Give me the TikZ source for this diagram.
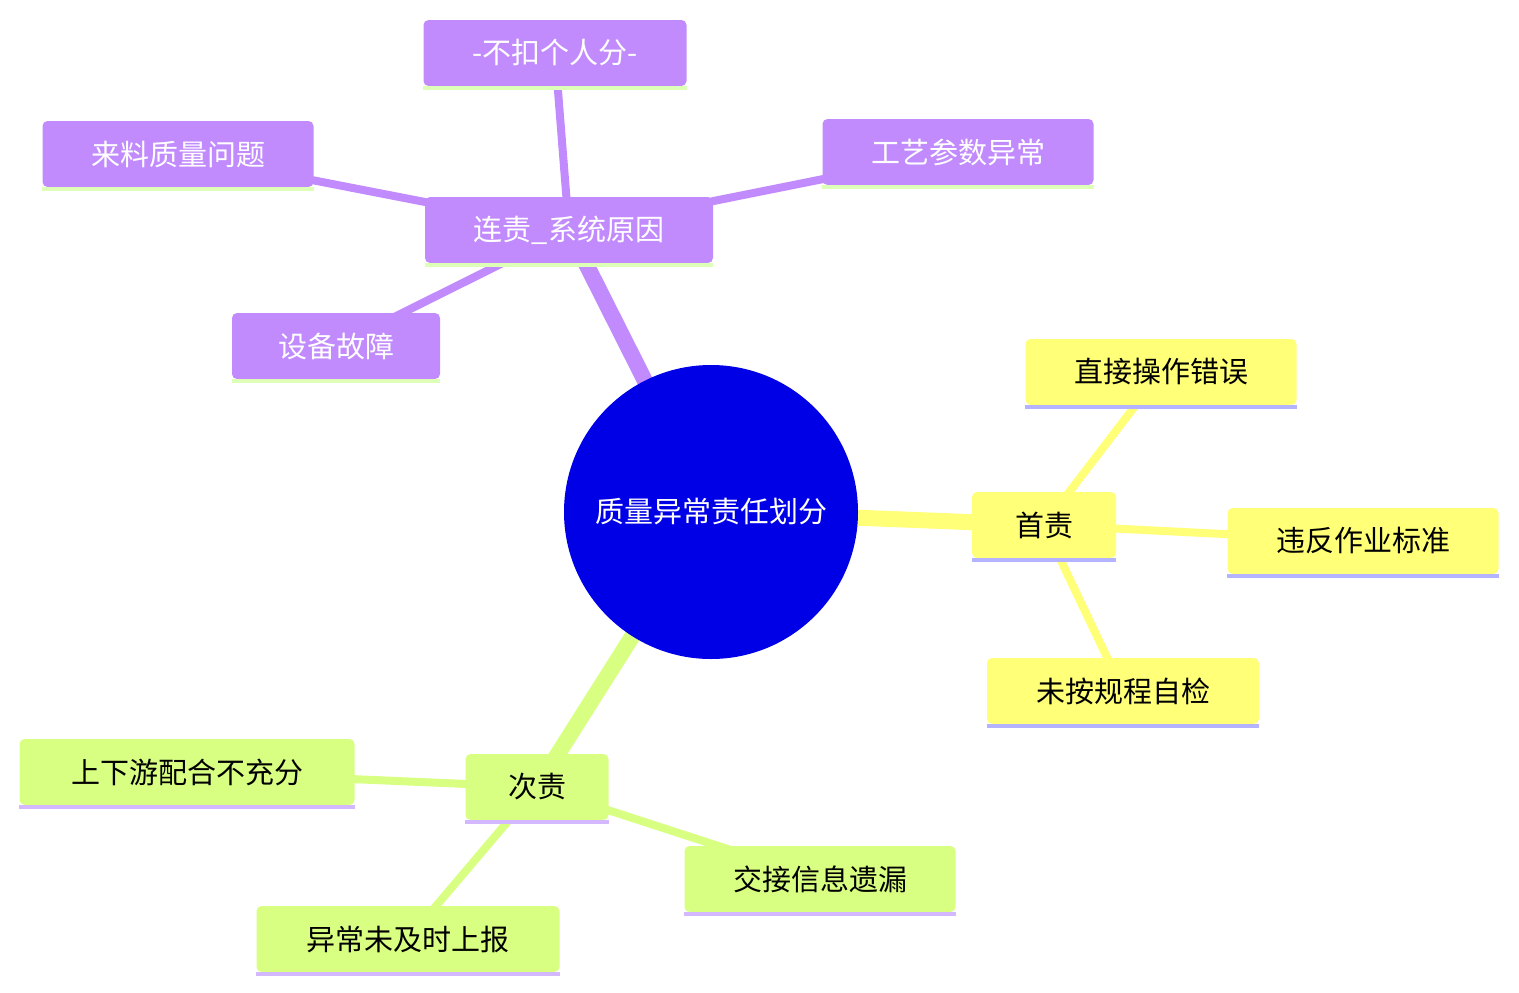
\documentclass[tikz,border=0pt]{standalone}
\usepackage{fontspec}
\setmainfont{Noto Sans CJK SC}
\usetikzlibrary{backgrounds}
\definecolor{pur}{HTML}{C28BFD}
\definecolor{yel}{HTML}{FFFF78}
\definecolor{grn}{HTML}{D9FF82}
\definecolor{root}{HTML}{0000E6}
\definecolor{lpur}{HTML}{B3B3FF}
\definecolor{lvio}{HTML}{D4B8FF}
\definecolor{lgrn}{HTML}{DDFFB8}
\begin{document}
\begin{tikzpicture}[x=1pt,y=-1pt,
  box/.style={rounded corners=5pt,minimum height=66pt,inner sep=0pt,font=\fontsize{29}{32}\selectfont},
  pbox/.style={box,fill=pur,text=white},
  ybox/.style={box,fill=yel,text=black},
  gbox/.style={box,fill=grn,text=black},
  main/.style={line width=16pt},
  sub/.style={line width=8pt}]
\useasboundingbox (0,0) rectangle (1519,993);
\node[circle,fill=root,minimum size=294pt,text=white,font=\fontsize{29}{32}\selectfont,inner sep=0pt] (r) at (711,512) {质量异常责任划分};
\node[pbox,minimum width=288pt] (s) at (569,230) {连责\_系统原因};
\node[pbox,minimum width=263pt] (s1) at (555,53) {-不扣个人分-};
\node[pbox,minimum width=271pt] (s2) at (178,154) {来料质量问题};
\node[pbox,minimum width=271pt] (s3) at (958,152) {工艺参数异常};
\node[pbox,minimum width=208pt] (s4) at (336,346) {设备故障};
\node[ybox,minimum width=144pt] (y) at (1044,525) {首责};
\node[ybox,minimum width=271pt] (y1) at (1161,372) {直接操作错误};
\node[ybox,minimum width=271pt] (y2) at (1363,541) {违反作业标准};
\node[ybox,minimum width=272pt] (y3) at (1123,691) {未按规程自检};
\node[gbox,minimum width=143pt] (g) at (537,787) {次责};
\node[gbox,minimum width=335pt] (g1) at (187,772) {上下游配合不充分};
\node[gbox,minimum width=271pt] (g2) at (820,879) {交接信息遗漏};
\node[gbox,minimum width=303pt] (g3) at (408,939) {异常未及时上报};
\begin{scope}[on background layer]
\draw[pur,main] (r.center) -- (s.center);
\draw[yel,main] (r.center) -- (y.center);
\draw[grn,main] (r.center) -- (g.center);
\foreach \a/\b in {s/s1,s/s2,s/s3,s/s4} \draw[pur,sub] (\a.center) -- (\b.center);
\foreach \a/\b in {y/y1,y/y2,y/y3} \draw[yel,sub] (\a.center) -- (\b.center);
\foreach \a/\b in {g/g1,g/g2,g/g3} \draw[grn,sub] (\a.center) -- (\b.center);
\end{scope}
\foreach \n/\c in {s/lgrn,s1/lgrn,s2/lgrn,s3/lgrn,s4/lgrn,y/lpur,y1/lpur,y2/lpur,y3/lpur,g/lvio,g1/lvio,g2/lvio,g3/lvio}
  \fill[\c] ([yshift=-4pt]\n.south west) rectangle ([yshift=0pt]\n.south east);
\end{tikzpicture}
\end{document}
